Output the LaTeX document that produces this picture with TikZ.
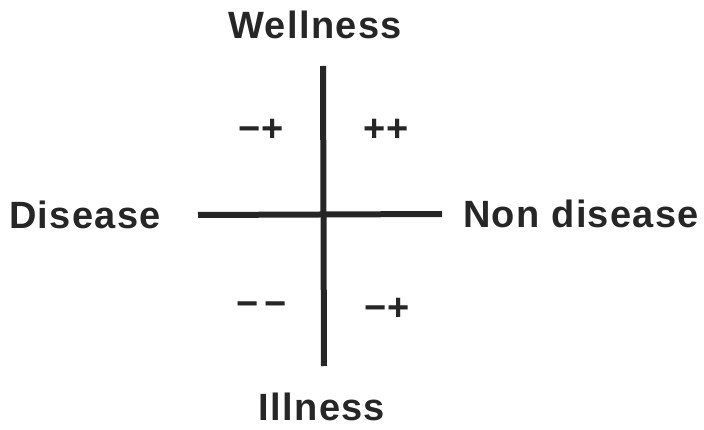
\documentclass[tikz,border=0pt]{standalone}
\usepackage{fontspec}
\setmainfont{Liberation Sans}
\usetikzlibrary{positioning}
\tikzset{
  ax/.style={line width=6pt,draw=black!85},
  lbl/.style={font=\fontsize{38}{42}\selectfont\bfseries\addfontfeature{LetterSpace=3.5},text=black!85,inner sep=0pt},
  sgn/.style={font=\fontsize{38}{42}\selectfont\bfseries,text=black!85,inner sep=0pt},
}
\begin{document}
\begin{tikzpicture}[x=1pt,y=-1pt]
  \useasboundingbox (0,0) rectangle (704,430);
  \coordinate (top) at (323,66);
  \coordinate (bot) at (324,366);
  \coordinate (lft) at (198,215);
  \coordinate (rgt) at (442,214);
  \draw[ax] (lft) -- (rgt);
  \draw[ax] (top) -- (bot);
  \node[lbl] (well) at (315,25) {Wellness};
  \node[lbl] (ill) at (322,407) {Illness};
  \node[lbl] (dis) at (85,215) {Disease};
  \node[lbl] (nondis) at (581,214) {Non disease};
  \node[sgn] (tl) at (261,130) {−+};
  \node[sgn] (tr) at (386,130) {++};
  \node[sgn] (bl) at (262,309) {−\hspace{6pt}−};
  \node[sgn] (br) at (387,309) {−+};
\end{tikzpicture}
\end{document}
